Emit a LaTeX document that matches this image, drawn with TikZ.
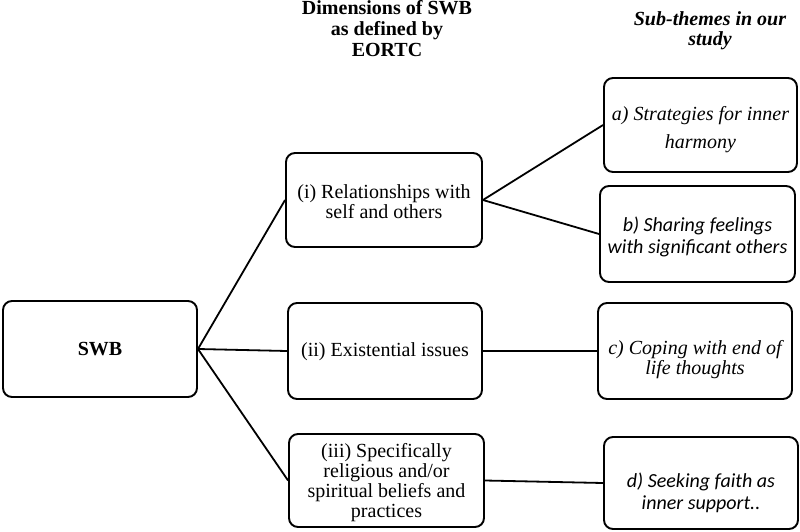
\documentclass[tikz,border=0pt]{standalone}
\usepackage{fontspec}
\setmainfont{Liberation Serif}[
  BoldFont={Liberation Serif Bold},
  ItalicFont={Liberation Serif Italic},
  BoldItalicFont={Liberation Serif Bold Italic}]
\newfontfamily\carl{Carlito}[
  ItalicFont={Carlito Italic},
  BoldFont={Carlito Bold}]
\newcommand{\boxtext}[2]{\raisebox{#1}[\height][\depth]{\begin{tabular}{@{}c@{}}#2\end{tabular}}}
\begin{document}
\begin{tikzpicture}[x=1pt,y=-1pt,
  box/.style={draw, line width=1.9pt, rounded corners=9pt, align=center, inner sep=2pt,
    font=\fontsize{20}{21}\selectfont},
  link/.style={line width=1.8pt},
  title/.style={align=center, inner sep=0pt}]
\useasboundingbox (0,0) rectangle (800,532);
\node[box, minimum width=194pt, minimum height=96pt, font=\fontsize{20}{21}\selectfont\bfseries] (swb) at (100,349) {SWB};
\node[box, minimum width=196pt, minimum height=94pt] (d1) at (384,200) {\boxtext{-4pt}{(i) Relationships with\\[-1pt]self and others}};
\node[box, minimum width=194pt, minimum height=96pt] (d2) at (385,351) {\boxtext{-1pt}{(ii) Existential issues}};
\node[box, minimum width=195pt, minimum height=93pt] (d3) at (386.5,480.5) {\boxtext{-3pt}{(iii) Specifically\\[-1pt]religious and/or\\[-1pt]spiritual beliefs and\\[-1pt]practices}};
\node[box, minimum width=193pt, minimum height=94pt, font=\fontsize{20}{21}\selectfont\itshape] (sa) at (700.5,125) {\boxtext{-5pt}{a) Strategies for inner\\[7pt]harmony}};
\node[box, minimum width=195pt, minimum height=96pt, font=\fontsize{20}{21}\carl\itshape] (sb) at (697.5,234) {\boxtext{-4pt}{b) Sharing feelings\\[1pt]with significant others}};
\node[box, minimum width=194pt, minimum height=96pt, font=\fontsize{20}{21}\selectfont\itshape] (sc) at (695,351) {\boxtext{-9pt}{c) Coping with end of\\[-1pt]life thoughts}};
\node[box, minimum width=194pt, minimum height=92pt, font=\fontsize{20}{21}\carl\itshape] (sd) at (701,483) {\boxtext{-11pt}{d) Seeking faith as\\[1pt]inner support..}};
\node[title, font=\fontsize{20}{21}\selectfont\bfseries] (t1) at (387,29) {Dimensions of SWB\\as defined by\\EORTC};
\node[title, font=\fontsize{20}{20}\selectfont\bfseries\itshape] (t2) at (710,31) {Sub-themes in our\\study};
\draw[link] (swb.east) -- (d1.west);
\draw[link] (swb.east) -- (d2.west);
\draw[link] (swb.east) -- (d3.west);
\draw[link] (d1.east) -- (sa.west);
\draw[link] (d1.east) -- (sb.west);
\draw[link] (d2.east) -- (sc.west);
\draw[link] (d3.east) -- (sd.west);
\end{tikzpicture}
\end{document}
